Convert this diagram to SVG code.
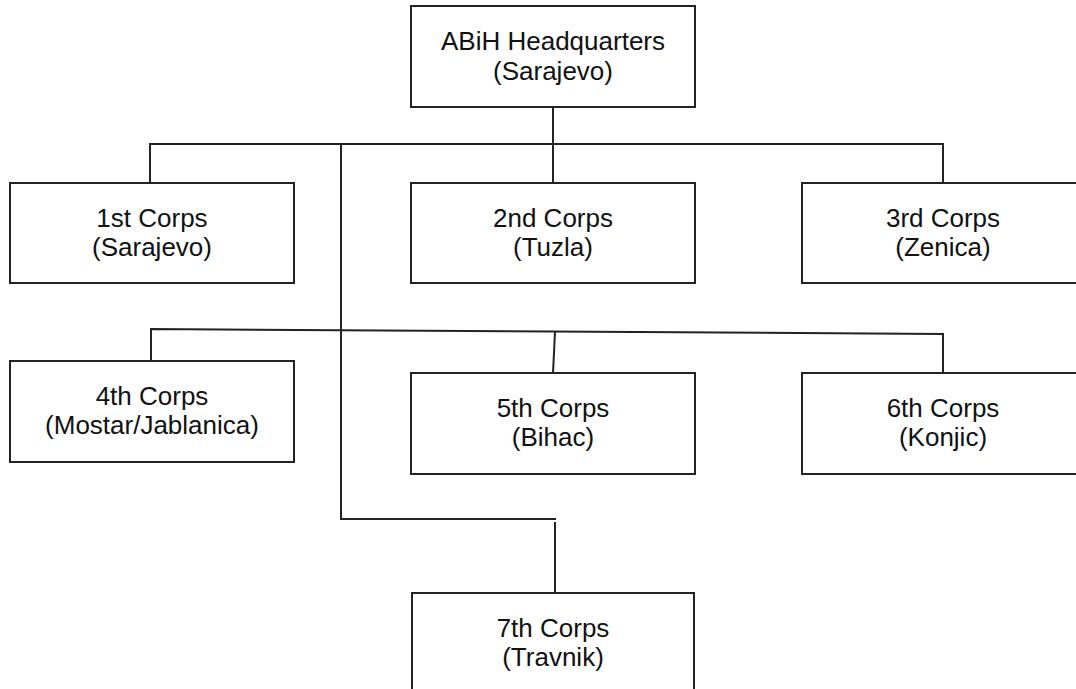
<svg xmlns="http://www.w3.org/2000/svg" width="1076" height="689" viewBox="0 0 1076 689">
<style>
.box{fill:#fff;stroke:#222;stroke-width:2}
.ln{fill:none;stroke:#222;stroke-width:2}
.t{font-family:"Liberation Sans",Arial,sans-serif;font-size:26px;fill:#111;text-anchor:middle}
</style>
<rect width="1076" height="689" fill="#fff"/>
<g id="connectors">
<path class="ln" d="M553,107 V183"/>
<path class="ln" d="M150,183 V144 H943 V183"/>
<path class="ln" d="M341,144 V519 H556"/>
<path class="ln" d="M555,522 V593"/>
<path class="ln" d="M151,361 V329 L943,334 V373"/>
<path class="ln" d="M555,332 L553,373"/>
</g>
<g id="hq"><rect class="box" x="411" y="6" width="284" height="101"/><text class="t" x="553" y="50">ABiH Headquarters</text><text class="t" x="553" y="80">(Sarajevo)</text></g>
<g id="c1"><rect class="box" x="10" y="183" width="284" height="100"/><text class="t" x="152" y="227">1st Corps</text><text class="t" x="152" y="256">(Sarajevo)</text></g>
<g id="c2"><rect class="box" x="411" y="183" width="284" height="100"/><text class="t" x="553" y="227">2nd Corps</text><text class="t" x="553" y="256">(Tuzla)</text></g>
<g id="c3"><rect class="box" x="802" y="183" width="282" height="100"/><text class="t" x="943" y="227">3rd Corps</text><text class="t" x="943" y="256">(Zenica)</text></g>
<g id="c4"><rect class="box" x="10" y="361" width="284" height="101"/><text class="t" x="152" y="405">4th Corps</text><text class="t" x="152" y="434">(Mostar/Jablanica)</text></g>
<g id="c5"><rect class="box" x="411" y="373" width="284" height="101"/><text class="t" x="553" y="417">5th Corps</text><text class="t" x="553" y="446">(Bihac)</text></g>
<g id="c6"><rect class="box" x="802" y="373" width="282" height="101"/><text class="t" x="943" y="417">6th Corps</text><text class="t" x="943" y="446">(Konjic)</text></g>
<g id="c7"><rect class="box" x="412" y="593" width="282" height="110"/><text class="t" x="553" y="637">7th Corps</text><text class="t" x="553" y="666">(Travnik)</text></g>
</svg>
